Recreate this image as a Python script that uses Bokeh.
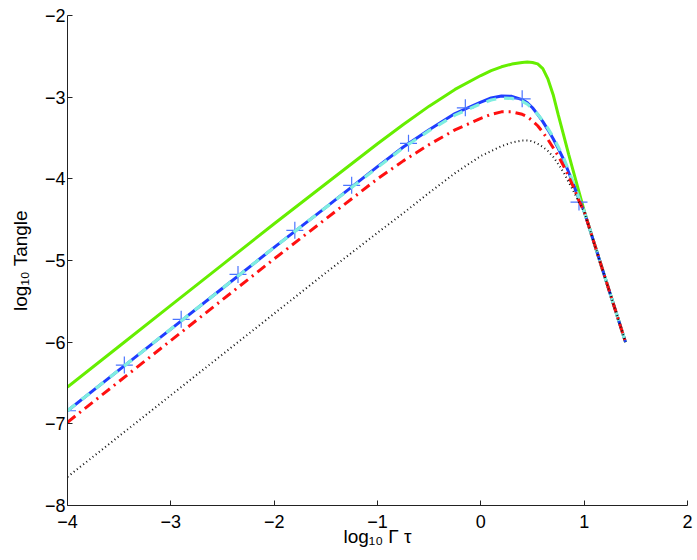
from bokeh.plotting import figure
from bokeh.models import Range1d, FixedTicker
from bokeh.embed import file_html
from bokeh.resources import INLINE

# log10(Gamma*tau) sample grid
x = [-4.0, -3.5, -3.0, -2.5, -2.0, -1.5, -1.0, -0.75, -0.5, -0.25, 0.0, 0.1, 0.2, 0.3,
     0.4, 0.45, 0.5, 0.55, 0.6, 0.65, 0.7, 0.75, 0.8, 0.85, 0.9, 0.95, 1.0, 1.1, 1.2, 1.3, 1.4]

green = [-6.55, -6.05, -5.55, -5.05, -4.55, -4.06, -3.57, -3.335, -3.11, -2.905, -2.735, -2.675,
         -2.628, -2.595, -2.575, -2.57, -2.575, -2.592, -2.65, -2.78, -2.97, -3.22, -3.46,
         -3.70, -3.93, -4.16, -4.39, -4.80, -5.20, -5.60, -6.00]

blue = [-6.84, -6.34, -5.84, -5.34, -4.84, -4.35, -3.85, -3.61, -3.40, -3.20, -3.06, -3.01,
        -2.985, -2.99, -3.03, -3.07, -3.13, -3.21, -3.30, -3.40, -3.51, -3.63, -3.76,
        -3.92, -4.08, -4.25, -4.40, -4.80, -5.20, -5.60, -6.00]

cyan = [-6.84, -6.34, -5.84, -5.34, -4.84, -4.35, -3.86, -3.62, -3.41, -3.22, -3.08, -3.035,
        -3.01, -3.015, -3.05, -3.085, -3.14, -3.21, -3.29, -3.385, -3.49, -3.61, -3.74,
        -3.90, -4.06, -4.24, -4.40, -4.80, -5.20, -5.60, -6.00]

red = [-6.98, -6.48, -5.98, -5.48, -4.98, -4.49, -4.00, -3.78, -3.58, -3.40, -3.26, -3.21,
       -3.18, -3.18, -3.21, -3.24, -3.29, -3.35, -3.43, -3.52, -3.62, -3.72, -3.84,
       -3.97, -4.11, -4.27, -4.40, -4.80, -5.20, -5.60, -6.00]

black = [-7.65, -7.15, -6.65, -6.15, -5.65, -5.15, -4.66, -4.42, -4.17, -3.93, -3.72, -3.66,
         -3.60, -3.555, -3.53, -3.53, -3.54, -3.57, -3.61, -3.66, -3.73, -3.82, -3.92,
         -4.04, -4.16, -4.29, -4.40, -4.80, -5.20, -5.60, -6.00]

marker_x = [-4.0, -3.45, -2.9, -2.35, -1.8, -1.25, -0.7, -0.15, 0.4, 0.95]
marker_y = [-6.84, -6.28, -5.72, -5.17, -4.63, -4.08, -3.565, -3.13, -3.02, -4.285]

x_ticks = [-4, -3, -2, -1, 0, 1, 2]
y_ticks = [-8, -7, -6, -5, -4, -3, -2]


def lab(v):
    return ("\u2212" + str(-v)) if v < 0 else str(v)


p = figure(width=695, height=558, x_range=Range1d(-4, 2), y_range=Range1d(-8, -2),
           output_backend="svg", toolbar_location=None,
           min_border_left=67, min_border_right=8, min_border_top=15, min_border_bottom=53)
p.grid.visible = False
p.outline_line_color = None
p.background_fill_color = "white"
p.border_fill_color = "white"

p.xaxis.ticker = FixedTicker(ticks=x_ticks)
p.yaxis.ticker = FixedTicker(ticks=y_ticks)
p.xaxis.major_label_overrides = {t: lab(t) for t in x_ticks}
p.yaxis.major_label_overrides = {t: lab(t) for t in y_ticks}

for ax in (p.xaxis, p.yaxis):
    ax.major_tick_in = 5
    ax.major_tick_out = 0
    ax.minor_tick_line_color = None
    ax.axis_line_color = "#222222"
    ax.major_tick_line_color = "#222222"
    ax.major_label_text_font = "Liberation Sans"
    ax.major_label_text_font_size = "18px"
    ax.major_label_text_color = "black"
    ax.axis_label_text_font = "Liberation Sans"
    ax.axis_label_text_font_size = "19px"
    ax.axis_label_text_font_style = "normal"
    ax.axis_label_text_color = "black"

p.xaxis.axis_label = "log\u2081\u2080 \u0393 \u03c4"
p.yaxis.axis_label = "log\u2081\u2080 Tangle"
p.xaxis.major_label_standoff = 9
p.yaxis.major_label_standoff = 2
p.xaxis.axis_label_standoff = -5
p.yaxis.axis_label_standoff = 11

p.line(x, green, line_color="#66ee00", line_width=3)
p.line(x, blue, line_color="#1f3dff", line_width=3)
p.scatter(marker_x, marker_y, marker="cross", size=17, line_color="#4a74ff", line_width=1.2)
p.line(x, cyan, line_color="#7feee0", line_width=3.2, line_dash="10 8")
p.line(x, red, line_color="#ff1010", line_width=3, line_dash="10 5 2 5")
p.line(x, black, line_color="#111111", line_width=2, line_dash="1 3")

open("out.html", "w").write(file_html(p, INLINE))
